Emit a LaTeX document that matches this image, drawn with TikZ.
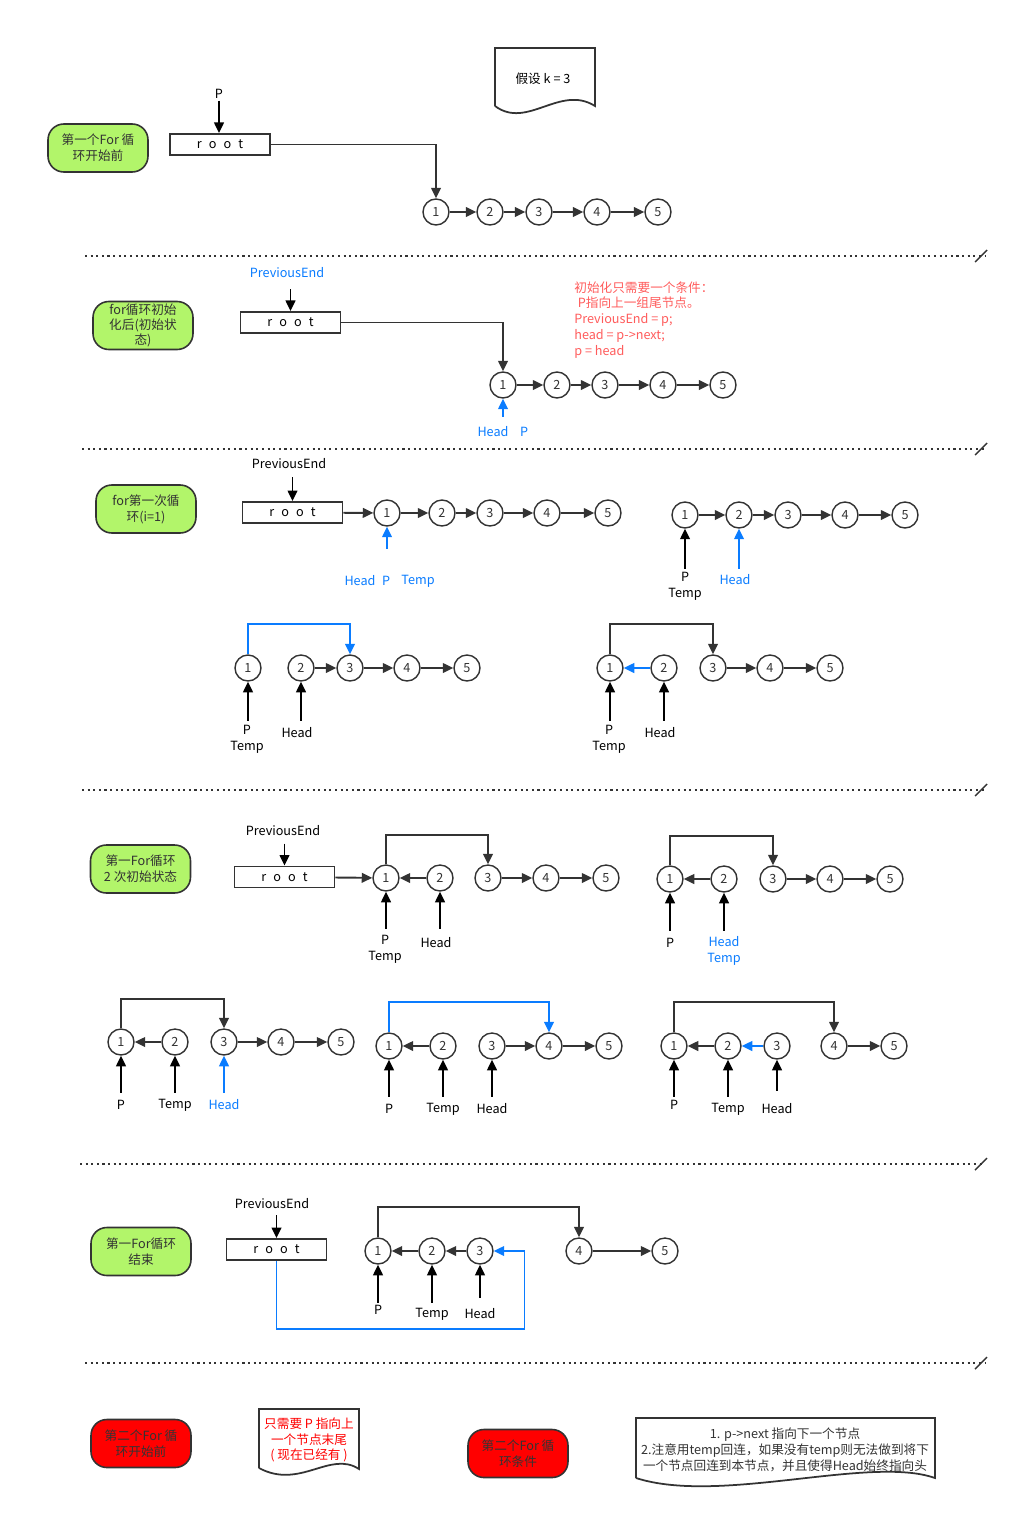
\documentclass[tikz,border=0pt]{standalone}
\usepackage{fontspec}
\setmainfont{Noto Sans CJK SC}
\usetikzlibrary{arrows.meta, positioning}

\definecolor{linec}{HTML}{333333}
\definecolor{hiblue}{HTML}{0A7CFF}
\definecolor{limeg}{HTML}{B2F56A}
\definecolor{notered}{HTML}{FF5C5C}
\newcommand{\roottxt}{r\hspace{4pt}o\hspace{4pt}o\hspace{4pt}t}

\begin{document}
\begin{tikzpicture}[
    x=0.02cm, y=-0.02cm,
    >={Triangle[length=6pt,width=5.5pt]},
    font=\fontsize{7.2}{9}\selectfont,
    nd/.style={circle, draw=linec, line width=0.8pt, minimum size=0.52cm, inner sep=0pt, text=linec},
    rootbox/.style={draw=linec, line width=1.1pt, minimum width=2cm, minimum height=0.42cm, inner sep=0pt},
    state/.style={draw=linec, line width=0.9pt, rounded corners=9pt, minimum width=2cm, minimum height=0.96cm, align=center, inner sep=1pt, text=linec},
    link/.style={->, draw=linec, line width=1.1pt},
    bluelink/.style={->, draw=hiblue, line width=1.1pt},
    ptr/.style={->, draw=black, line width=1.1pt},
    blueptr/.style={->, draw=hiblue, line width=1.1pt},
    lbl/.style={inner sep=1pt, align=center},
    doc/.style={draw=linec, line width=1pt},
    sep/.style={dotted, line width=1.2pt, draw=linec}
]
    \useasboundingbox (0,0) rectangle (1019,1521);

    % === 1. 第一个For循环开始前 ===
    \node[state, fill=limeg] (s1) at (98,148) {第一个For 循\\环开始前};
    \node[lbl] (p1) at (219,94) {P};
    \node[rootbox] (r1) at (220,144.5) {\roottxt};
    \draw[ptr] (p1.south) -- (p1.south |- r1.north);
    \foreach \x [count=\i] in {436,490,539,597,658}
        \node[nd] (a\i) at (\x,212) {\i};
    \foreach \i/\j in {1/2,2/3,3/4,4/5}
        \draw[link] (a\i) -- (a\j);
    \draw[link] (r1.east) -| (a1.north);

    % Document: k = 3
    \draw[doc] (495,106) -- (495,48) -- (595,48) -- (595,106)
        .. controls (560,84) and (527,130) .. (495,106);
    \node[lbl] (k3) at (543,79) {假设 k = 3};

    \draw[sep] (85,256) -- (985,256);
    \draw[linec, line width=0.8pt] (975,262) -- (987,250);

    % === 2. for循环初始化后 ===
    \node[state, fill=limeg, font=\fontsize{7.2}{8.5}\selectfont] (s2) at (143,325.5) {for循环初始\\化后(初始状\\态)};
    \node[lbl, text=hiblue] (pe2) at (287,273) {PreviousEnd};
    \node[rootbox] (r2) at (290.5,322.5) {\roottxt};
    \draw[ptr] (r2.north) ++(0,-22) -- (r2.north);
    \foreach \x [count=\i] in {503,557,605,663,723}
        \node[nd] (b\i) at (\x,385) {\i};
    \foreach \i/\j in {1/2,2/3,3/4,4/5}
        \draw[link] (b\i) -- (b\j);
    \draw[link] (r2.east) -| (b1.north);
    \draw[blueptr] (b1.south) ++(0,18) -- (b1.south);
    \node[lbl, text=hiblue] (hb) at (493,432) {Head};
    \node[lbl, text=hiblue] (pb) at (524,432) {P};
    \node[anchor=north west, text=notered, align=left, inner sep=0pt,
          font=\fontsize{7.2}{9.1}\selectfont] (cond) at (574,281)
        {初始化只需要一个条件：\\\hspace*{2pt}P指向上一组尾节点。\\PreviousEnd = p;\\head = p->next;\\p = head};

    \draw[sep] (82,449) -- (985,449);
    \draw[linec, line width=0.8pt] (975,455) -- (987,443);

    % === 3. for第一次循环 ===
    \node[state, fill=limeg] (s3) at (146,509) {for第一次循\\环(i=1)};
    \node[lbl] (pe3) at (289,464) {PreviousEnd};
    \node[rootbox] (r3) at (292.5,512.5) {\roottxt};
    \draw[ptr] (r3.north) ++(0,-24) -- (r3.north);
    \foreach \x [count=\i] in {387,442,490,547,608}
        \node[nd] (c\i) at (\x,513) {\i};
    \foreach \i/\j in {1/2,2/3,3/4,4/5}
        \draw[link] (c\i) -- (c\j);
    \draw[link] (r3) -- (c1);
    \draw[blueptr] (c1.south) ++(0,22) -- (c1.south);
    \node[lbl, text=hiblue] (hc) at (360,581) {Head};
    \node[lbl, text=hiblue] (pc) at (386,581) {P};
    \node[lbl, text=hiblue] (tc) at (418,581) {Temp};

    \foreach \x [count=\i] in {685,739,788,845,905}
        \node[nd] (d\i) at (\x,515) {\i};
    \foreach \i/\j in {1/2,2/3,3/4,4/5}
        \draw[link] (d\i) -- (d\j);
    \draw[ptr] (d1.south) ++(0,40) -- (d1.south);
    \draw[blueptr] (d2.south) ++(0,40) -- (d2.south);
    \node[lbl] (pd) at (685,586) {P\\Temp};
    \node[lbl, text=hiblue] (hd) at (735,580) {Head};

    \foreach \x [count=\i] in {248,301,350,407,467}
        \node[nd] (e\i) at (\x,668) {\i};
    \foreach \i/\j in {2/3,3/4,4/5}
        \draw[link] (e\i) -- (e\j);
    \draw[bluelink] (e1.north) -- ++(0,-30) -| (e3.north);
    \draw[ptr] (e1.south) ++(0,39) -- (e1.south);
    \draw[ptr] (e2.south) ++(0,39) -- (e2.south);
    \node[lbl] (pe) at (247,739) {P\\Temp};
    \node[lbl] (he) at (297,733) {Head};

    \foreach \x [count=\i] in {610,664,713,770,830}
        \node[nd] (f\i) at (\x,668) {\i};
    \draw[bluelink] (f2) -- (f1);
    \foreach \i/\j in {3/4,4/5}
        \draw[link] (f\i) -- (f\j);
    \draw[link] (f1.north) -- ++(0,-30) -| (f3.north);
    \draw[ptr] (f1.south) ++(0,39) -- (f1.south);
    \draw[ptr] (f2.south) ++(0,39) -- (f2.south);
    \node[lbl] (pf) at (609,739) {P\\Temp};
    \node[lbl] (hf) at (660,733) {Head};

    \draw[sep] (82,790) -- (985,790);
    \draw[linec, line width=0.8pt] (975,796) -- (987,784);

    % === 4. 第一For循环 2次初始状态 ===
    \node[state, fill=limeg] (s4) at (140.5,869) {第一For循环\\2 次初始状态};
    \node[lbl] (pe4) at (283,831) {PreviousEnd};
    \node[rootbox] (r4) at (284.5,877) {\roottxt};
    \draw[ptr] (r4.north) ++(0,-22) -- (r4.north);
    \foreach \x [count=\i] in {386,440,488,546,606}
        \node[nd] (g\i) at (\x,878) {\i};
    \draw[link] (r4) -- (g1);
    \draw[link] (g2) -- (g1);
    \foreach \i/\j in {3/4,4/5}
        \draw[link] (g\i) -- (g\j);
    \draw[link] (g1.north) -- ++(0,-29) -| (g3.north);
    \draw[ptr] (g1.south) ++(0,37) -- (g1.south);
    \draw[ptr] (g2.south) ++(0,37) -- (g2.south);
    \node[lbl] (pg) at (385,949) {P\\Temp};
    \node[lbl] (hg) at (436,943) {Head};

    \foreach \x [count=\i] in {670,724,773,830,890}
        \node[nd] (h\i) at (\x,879) {\i};
    \draw[link] (h2) -- (h1);
    \foreach \i/\j in {3/4,4/5}
        \draw[link] (h\i) -- (h\j);
    \draw[link] (h1.north) -- ++(0,-29) -| (h3.north);
    \draw[ptr] (h1.south) ++(0,38) -- (h1.south);
    \draw[ptr] (h2.south) ++(0,38) -- (h2.south);
    \node[lbl] (ph) at (670,943) {P};
    \node[lbl, text=hiblue] (hh) at (724,951) {Head\\Temp};

    \foreach \x [count=\i] in {121,175,224,281,341}
        \node[nd] (i\i) at (\x,1042) {\i};
    \draw[link] (i2) -- (i1);
    \foreach \i/\j in {3/4,4/5}
        \draw[link] (i\i) -- (i\j);
    \draw[link] (i1.north) -- ++(0,-29) -| (i3.north);
    \draw[ptr] (i1.south) ++(0,37) -- (i1.south);
    \draw[ptr] (i2.south) ++(0,37) -- (i2.south);
    \draw[blueptr] (i3.south) ++(0,37) -- (i3.south);
    \node[lbl] (pi) at (121,1105) {P};
    \node[lbl] (ti) at (175,1105) {Temp};
    \node[lbl, text=hiblue] (hi) at (224,1105) {Head};

    \foreach \x [count=\i] in {389,443,492,549,609}
        \node[nd] (j\i) at (\x,1046) {\i};
    \draw[link] (j2) -- (j1);
    \foreach \i/\j in {3/4,4/5}
        \draw[link] (j\i) -- (j\j);
    \draw[bluelink] (j1.north) -- ++(0,-30) -| (j4.north);
    \draw[ptr] (j1.south) ++(0,37) -- (j1.south);
    \draw[ptr] (j2.south) ++(0,37) -- (j2.south);
    \draw[ptr] (j3.south) ++(0,37) -- (j3.south);
    \node[lbl] (pj) at (389,1109) {P};
    \node[lbl] (tj) at (443,1109) {Temp};
    \node[lbl] (hj) at (492,1109) {Head};

    \foreach \x [count=\i] in {674,728,777,834,894}
        \node[nd] (k\i) at (\x,1046) {\i};
    \draw[link] (k2) -- (k1);
    \draw[bluelink] (k3) -- (k2);
    \draw[link] (k4) -- (k5);
    \draw[link] (k1.north) -- ++(0,-30) -| (k4.north);
    \draw[ptr] (k1.south) ++(0,37) -- (k1.south);
    \draw[ptr] (k2.south) ++(0,37) -- (k2.south);
    \draw[ptr] (k3.south) ++(0,31) -- (k3.south);
    \node[lbl] (pk) at (674,1105) {P};
    \node[lbl] (tk) at (728,1109) {Temp};
    \node[lbl] (hk) at (777,1109) {Head};

    \draw[sep] (80,1164) -- (985,1164);
    \draw[linec, line width=0.8pt] (975,1170) -- (987,1158);

    % === 5. 第一For循环结束 ===
    \node[state, fill=limeg] (s5) at (141,1251.5) {第一For循环\\结束};
    \node[lbl] (pe5) at (272,1204) {PreviousEnd};
    \node[rootbox] (r5) at (276.5,1249.5) {\roottxt};
    \draw[ptr] (r5.north) ++(0,-23) -- (r5.north);
    \foreach \x [count=\i] in {378,432,480,579,665}
        \node[nd] (l\i) at (\x,1251) {\i};
    \draw[link] (l2) -- (l1);
    \draw[link] (l3) -- (l2);
    \draw[link] (l4) -- (l5);
    \draw[link] (l1.north) -- ++(0,-30) -| (l4.north);
    \draw[bluelink] (r5.south) |- ++(248,68) |- (l3.east);
    \draw[ptr] (l1.south) ++(0,38) -- (l1.south);
    \draw[ptr] (l2.south) ++(0,38) -- (l2.south);
    \draw[ptr] (l3.south) ++(0,33) -- (l3.south);
    \node[lbl] (pl) at (378,1310) {P};
    \node[lbl] (tl) at (432,1314) {Temp};
    \node[lbl] (hl) at (480,1314) {Head};

    \draw[sep] (85,1363) -- (985,1363);
    \draw[linec, line width=0.8pt] (975,1369) -- (987,1357);

    % === 6. 第二个For循环 ===
    \node[state, fill=red] (s6) at (141,1443.5) {第二个For 循\\环开始前};
    \draw[doc] (259,1468) -- (259,1409) -- (359,1409) -- (359,1469)
        .. controls (330,1450) and (300,1490) .. (259,1468);
    \node[lbl, text=red] (need) at (309,1440) {只需要 P 指向上\\一个节点末尾\\( 现在已经有 )};
    \node[state, fill=red] (s7) at (518,1453.5) {第二个For 循\\环条件};
    \draw[doc] (636,1478) -- (636,1418) -- (935,1418) -- (935,1478)
        .. controls (870,1455) and (720,1505) .. (636,1478);
    \node[lbl, text=linec] (note) at (785,1450) {1. p->next 指向下一个节点\\2.注意用temp回连，如果没有temp则无法做到将下\\一个节点回连到本节点，并且使得Head始终指向头};

\end{tikzpicture}
\end{document}
